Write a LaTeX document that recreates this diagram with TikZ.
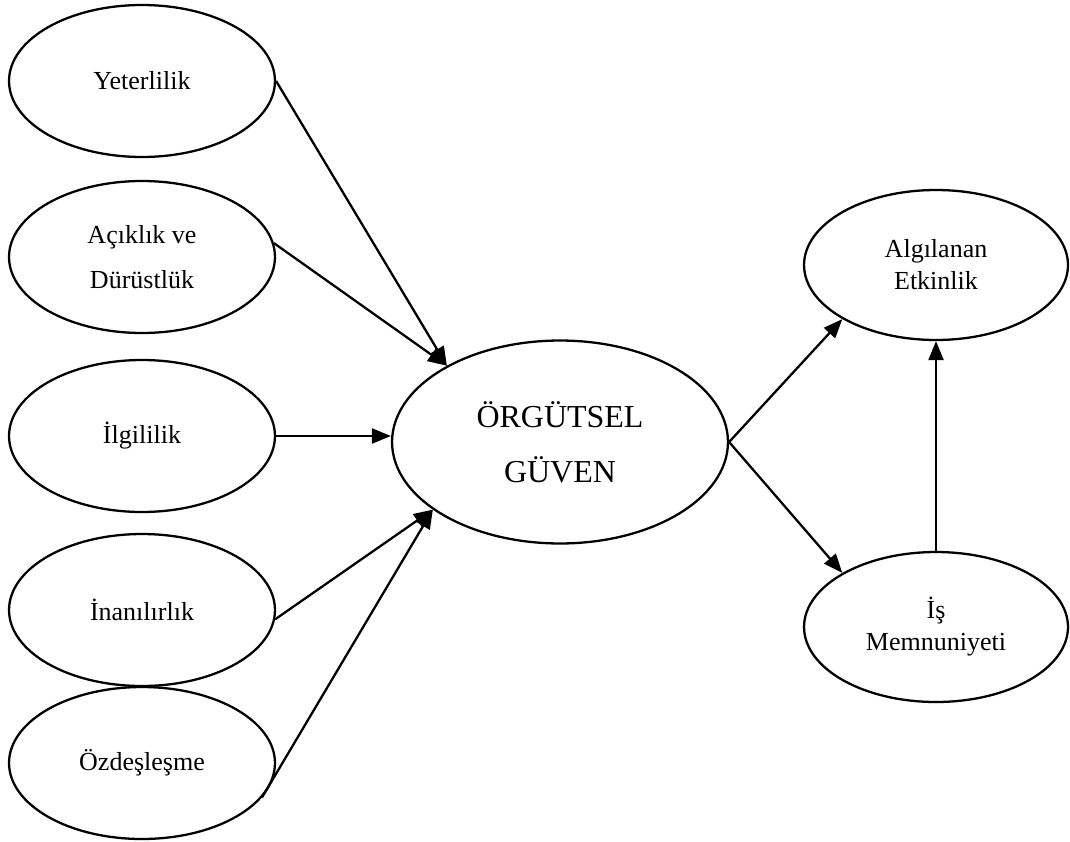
\documentclass[tikz,border=0pt]{standalone}
\usepackage{fontspec}
\setmainfont{Liberation Serif}
\usepackage{tikz}
\usetikzlibrary{shapes.geometric}
\usetikzlibrary{arrows.meta}

\begin{document}
\begin{tikzpicture}[x=0.02cm,y=-0.02cm,
    oval/.style={draw,ellipse,line width=1.3pt,inner sep=0pt,align=center,
      minimum width=5.32cm,minimum height=3.04cm,
      font=\fontsize{14.8}{25.6}\selectfont},
    bigoval/.style={oval,minimum width=6.72cm,minimum height=4.06cm,
      font=\fontsize{18.2}{31.3}\selectfont},
    rightoval/.style={oval,minimum width=5.28cm,minimum height=3.0cm,
      font=\fontsize{14.8}{18.2}\selectfont},
    arr/.style={-{Triangle[length=0.38cm,width=0.3cm]},line width=1.3pt}]
      \useasboundingbox (0,0) rectangle (1070,841);
      % left column
      \node[oval] (yet) at (142,81) {Yeterlilik};
      \node[oval] (acik) at (142,257) {Açıklık ve\\Dürüstlük};
      \node[oval] (ilgi) at (142,436) {İlgililik};
      \node[oval] (inan) at (142,610) {İnanılırlık};
      \node[oval] (ozd) at (142,763) {Özdeşleşme};
      % centre and right
      \node[bigoval] (org) at (560,442) {ÖRGÜTSEL\\GÜVEN};
      \node[rightoval] (algi) at (936,265) {Algılanan\\Etkinlik};
      \node[rightoval] (is) at (936,627) {İş\\Memnuniyeti};
      % arrows
      \draw [arr] (yet.east) -- (org.146);
      \draw [arr] (acik.6) -- (org.146);
      \draw [arr] (ilgi.east) -- (ilgi.east -| org.west);
      \draw [arr] (inan.-4) -- (org.208);
      \draw [arr] (ozd.-16) -- (org.208);
      \draw [arr] (org.east) -- (algi.210);
      \draw [arr] (org.east) -- (is.150);
      \draw [arr] (is.north) -- (algi.south);
    \end{tikzpicture}
\end{document}
